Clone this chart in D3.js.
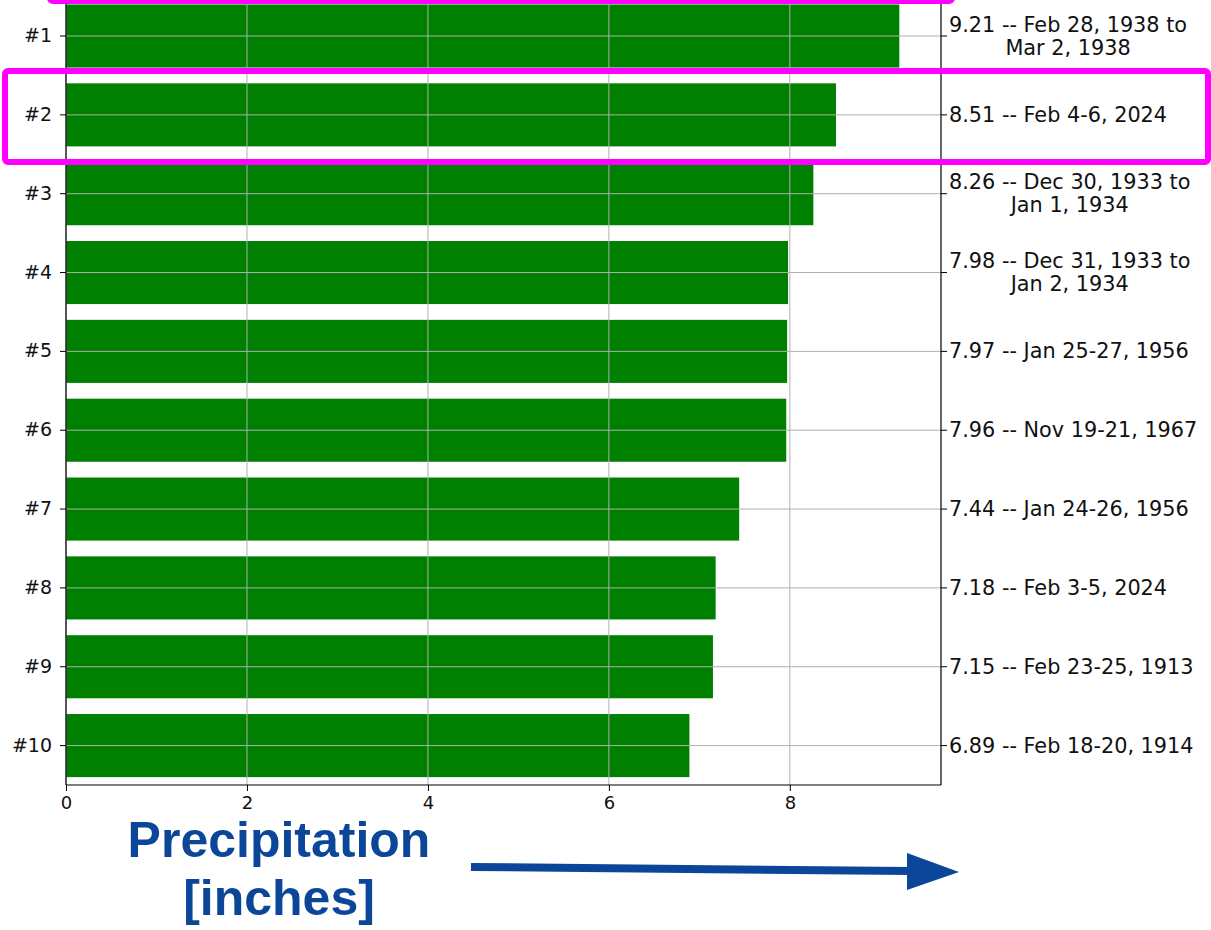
<!DOCTYPE html>
<html>
<head>
<meta charset="utf-8">
<script src="https://cdn.jsdelivr.net/npm/d3@7"></script>
<style>
  body { margin: 0; background: #fff; }
  svg { display: block; }
</style>
</head>
<body>
<div id="chart"></div>
<script>
const ranks = ["#1", "#2", "#3", "#4", "#5", "#6", "#7", "#8", "#9", "#10"];
const values = [9.21, 8.51, 8.26, 7.98, 7.97, 7.96, 7.44, 7.18, 7.15, 6.89];
const eventLabels = [
  ["9.21 -- Feb 28, 1938 to", "Mar 2, 1938"],
  ["8.51 -- Feb 4-6, 2024"],
  ["8.26 -- Dec 30, 1933 to", "Jan 1, 1934"],
  ["7.98 -- Dec 31, 1933 to", "Jan 2, 1934"],
  ["7.97 -- Jan 25-27, 1956"],
  ["7.96 -- Nov 19-21, 1967"],
  ["7.44 -- Jan 24-26, 1956"],
  ["7.18 -- Feb 3-5, 2024"],
  ["7.15 -- Feb 23-25, 1913"],
  ["6.89 -- Feb 18-20, 1914"]
];
const xTicks = [0, 2, 4, 6, 8];

const W = 1211, H = 930;
const plot = { left: 66, right: 941, top: -3.4, bottom: 785 };

const svg = d3.select("#chart").append("svg")
  .attr("width", W)
  .attr("height", H);

const x = d3.scaleLinear()
  .domain([0, d3.max(values) * 1.05])
  .range([plot.left, plot.right]);

const y = d3.scaleBand()
  .domain(ranks)
  .range([plot.top, plot.bottom])
  .paddingInner(0.2)
  .paddingOuter(0.1);

const data = ranks.map((r, i) => ({ rank: r, value: values[i], label: eventLabels[i] }));

// Bars
svg.selectAll(".bar")
  .data(data)
  .enter()
  .append("rect")
  .attr("class", "bar")
  .attr("x", x(0))
  .attr("y", d => y(d.rank))
  .attr("width", d => x(d.value) - x(0))
  .attr("height", y.bandwidth())
  .attr("fill", "#008000");

// Grid on top of bars
const grid = svg.append("g").attr("stroke", "#b0b0b0").attr("stroke-width", 1);
grid.selectAll(".vgrid")
  .data(xTicks)
  .enter()
  .append("line")
  .attr("x1", d => x(d)).attr("x2", d => x(d))
  .attr("y1", plot.top).attr("y2", plot.bottom);
grid.selectAll(".hgrid")
  .data(ranks)
  .enter()
  .append("line")
  .attr("x1", plot.left).attr("x2", plot.right)
  .attr("y1", d => y(d) + y.bandwidth() / 2)
  .attr("y2", d => y(d) + y.bandwidth() / 2);

const tickFont = "'DejaVu Sans', sans-serif";

// Bottom axis
svg.append("g")
  .attr("transform", `translate(0, ${plot.bottom})`)
  .call(d3.axisBottom(x).tickValues(xTicks).tickSize(6).tickPadding(5).tickFormat(d3.format("d")))
  .call(g => g.select(".domain").remove())
  .call(g => g.selectAll("text").attr("font-family", tickFont).attr("font-size", "18px").attr("fill", "#111"));

// Left axis
svg.append("g")
  .attr("transform", `translate(${plot.left}, 0)`)
  .call(d3.axisLeft(y).tickSize(6).tickPadding(8))
  .call(g => g.select(".domain").remove())
  .call(g => g.selectAll("text").attr("font-family", tickFont).attr("font-size", "19px").attr("fill", "#111"));

// Right axis ticks with event labels
const right = svg.append("g")
  .attr("transform", `translate(${plot.right}, 0)`)
  .call(d3.axisRight(y).tickSize(6).tickFormat(""))
  .call(g => g.select(".domain").remove());

const lineH = 23;
right.selectAll(".evt")
  .data(data)
  .enter()
  .append("text")
  .attr("class", "evt")
  .attr("font-family", tickFont)
  .attr("font-size", "20.8px")
  .attr("fill", "#111")
  .each(function(d) {
    const t = d3.select(this);
    const cy = y(d.rank) + y.bandwidth() / 2;
    const n = d.label.length;
    d.label.forEach((line, i) => {
      t.append("tspan")
        .attr("x", 8)
        .attr("y", cy + (i - (n - 1) / 2) * lineH + 7)
        .text(line);
    });
  });

// center second lines under the first line
right.selectAll(".evt").each(function(d) {
  if (d.label.length < 2) return;
  const spans = d3.select(this).selectAll("tspan").nodes();
  const w1 = spans[0].getComputedTextLength();
  const w2 = spans[1].getComputedTextLength();
  d3.select(spans[1]).attr("x", 8 + (w1 - w2) / 2);
});

// Spines
svg.append("g")
  .attr("stroke", "#000")
  .attr("stroke-width", 1.2)
  .call(g => g.append("line").attr("x1", plot.left).attr("x2", plot.left).attr("y1", plot.top).attr("y2", plot.bottom))
  .call(g => g.append("line").attr("x1", plot.right).attr("x2", plot.right).attr("y1", plot.top).attr("y2", plot.bottom))
  .call(g => g.append("line").attr("x1", plot.left).attr("x2", plot.right).attr("y1", plot.bottom).attr("y2", plot.bottom));

// Highlight boxes
svg.append("rect")
  .attr("x", 5).attr("y", 71)
  .attr("width", 1203).attr("height", 91)
  .attr("rx", 3)
  .attr("fill", "none")
  .attr("stroke", "#ff00ff")
  .attr("stroke-width", 6);
svg.append("rect")
  .attr("x", 50).attr("y", -100)
  .attr("width", 902).attr("height", 101)
  .attr("rx", 3)
  .attr("fill", "none")
  .attr("stroke", "#ff00ff")
  .attr("stroke-width", 6);

// Axis title annotation
const blue = "#0c4699";
svg.append("text")
  .attr("text-anchor", "middle")
  .attr("font-family", "'Liberation Sans', Arial, sans-serif")
  .attr("font-weight", "bold")
  .attr("font-size", "50px")
  .attr("fill", blue)
  .call(t => t.append("tspan").attr("x", 279).attr("y", 857).text("Precipitation"))
  .call(t => t.append("tspan").attr("x", 279).attr("y", 915).text("[inches]"));

svg.append("line")
  .attr("x1", 471).attr("y1", 867)
  .attr("x2", 910).attr("y2", 871)
  .attr("stroke", blue)
  .attr("stroke-width", 8);
svg.append("path")
  .attr("d", "M907,853 L959,872 L907,890 Z")
  .attr("fill", blue);
</script>
</body>
</html>
